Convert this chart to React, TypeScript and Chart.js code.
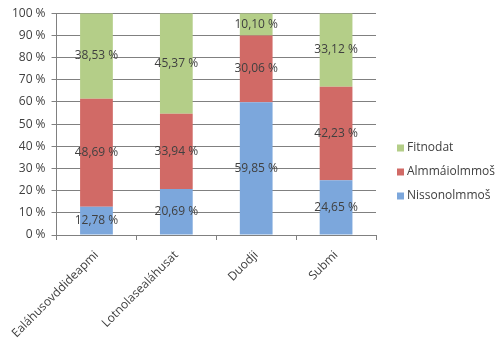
import React, { useEffect, useRef } from "react";
import { Chart, registerables } from "chart.js";

Chart.register(...registerables);

const categories = ["Ealáhusovddideapmi", "Lotnolasealáhusat", "Duodji", "Submi"];
const nissonolmmos = [12.78, 20.69, 59.85, 24.65];
const almmaiolmmos = [48.69, 33.94, 30.06, 42.23];
const fitnodat = [38.53, 45.37, 10.1, 33.12];
const yTicks = [0, 10, 20, 30, 40, 50, 60, 70, 80, 90, 100];

const FONT = "'Open Sans', sans-serif";
const TEXT = "#404040";

const labelPlugin = {
  id: "segLabels",
  afterDatasetsDraw(chart: any) {
    const ctx = chart.ctx;
    ctx.save();
    ctx.font = `12px ${FONT}`;
    ctx.fillStyle = TEXT;
    ctx.textAlign = "center";
    ctx.textBaseline = "middle";
    chart.data.datasets.forEach((ds: any, di: number) => {
      const meta = chart.getDatasetMeta(di);
      meta.data.forEach((el: any, i: number) => {
        const v = ds.data[i] as number;
        const p = el.getCenterPoint();
        ctx.fillText(v.toFixed(2).replace(".", ",") + " %", p.x, p.y);
      });
    });
    ctx.restore();
  },
};

const legendPlugin = {
  id: "customLegend",
  afterDraw(chart: any) {
    const ctx = chart.ctx;
    ctx.save();
    ctx.font = `12px ${FONT}`;
    ctx.textBaseline = "middle";
    ctx.textAlign = "left";
    const ds = chart.data.datasets.slice().reverse();
    const x0 = 397;
    const y0 = 148;
    ds.forEach((d: any, i: number) => {
      const y = y0 + i * 24;
      ctx.fillStyle = d.backgroundColor;
      ctx.fillRect(x0, y - 3.5, 7, 7);
      ctx.fillStyle = TEXT;
      ctx.fillText(d.label, x0 + 10, y);
    });
    ctx.restore();
  },
};

export default function App() {
  const ref = useRef<HTMLCanvasElement>(null);
  useEffect(() => {
    document.body.style.margin = "0";
    const chart = new Chart(ref.current!, {
      type: "bar",
      data: {
        labels: categories,
        datasets: [
          { label: "Nissonolmmoš", data: nissonolmmos, backgroundColor: "#7CA7DC" },
          { label: "Almmáiolmmoš", data: almmaiolmmos, backgroundColor: "#D16A66" },
          { label: "Fitnodat", data: fitnodat, backgroundColor: "#B4CE88" },
        ],
      },
      options: {
        responsive: false,
        animation: false,
        layout: { padding: { top: 7, right: 124, left: 0, bottom: 0 } },
        datasets: { bar: { barPercentage: 0.41, categoryPercentage: 1 } },
        plugins: { legend: { display: false }, tooltip: { enabled: false } },
        scales: {
          x: {
            stacked: true,
            afterFit: (s: any) => { s.height = 118; },
            grid: {
              offset: true,
              drawOnChartArea: false,
              drawTicks: true,
              tickLength: 5,
              color: "#808080",
            },
            border: { color: "#808080" },
            ticks: {
              minRotation: 45,
              maxRotation: 45,
              color: TEXT,
              font: { family: FONT, size: 12 },
              padding: 8,
            },
          },
          y: {
            stacked: true,
            min: 0,
            max: 100,
            afterFit: (s: any) => { s.width = 48; },
            afterBuildTicks: (s: any) => { s.ticks = yTicks.map((v) => ({ value: v })); },
            grid: { color: "#808080", tickLength: 5 },
            border: { color: "#808080" },
            ticks: {
              color: TEXT,
              font: { family: FONT, size: 12 },
              padding: 6,
              callback: (v: any) => v + " %",
            },
          },
        },
      },
      plugins: [labelPlugin, legendPlugin],
    });
    return () => chart.destroy();
  }, []);
  return <canvas ref={ref} width={500} height={353} style={{ display: "block" }} />;
}
